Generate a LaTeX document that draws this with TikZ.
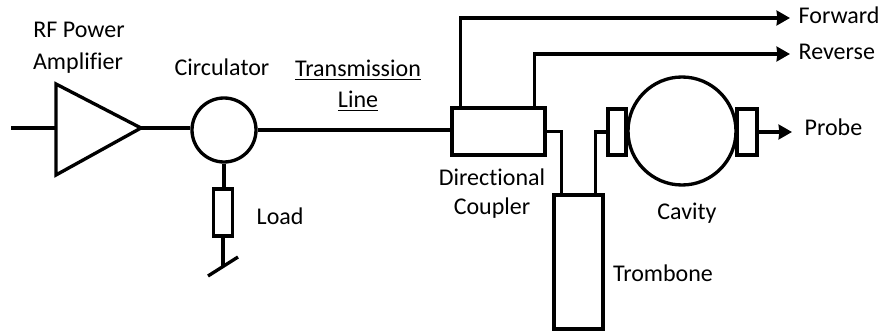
\documentclass[tikz,border=0pt]{standalone}
\usepackage{fontspec}
\setmainfont[Ligatures=NoCommon]{Carlito}
\usetikzlibrary{arrows.meta}
\begin{document}
\begin{tikzpicture}[x=0.75pt, y=-0.75pt, line width=2.5pt,
		>={Stealth[length=10pt,width=11pt,inset=0.5pt]},
		part/.style={draw, rectangle, inner sep=0pt},
		lbl/.style={inner sep=0pt, font=\fontsize{18}{22}\selectfont}]
		\useasboundingbox (0,0) rectangle (880,331);
		% amplifier
		\coordinate (ampin) at (11,128);
		\coordinate (ampa) at (56,84);
		\coordinate (ampb) at (56,175);
		\coordinate (ampc) at (141,128);
		\draw[line join=miter] (ampa) -- (ampc) -- (ampb) -- cycle;
		\node[draw, circle, inner sep=0pt, minimum size=48pt] (circ) at (224,130) {};
		\node[part, minimum width=14.25pt, minimum height=35.25pt] (load) at (223,212.5) {};
		\coordinate (gnd) at (223,266);
		\coordinate (gnda) at (208,276);
		\coordinate (gndb) at (238,257);
		\node[part, minimum width=69.75pt, minimum height=35.25pt] (coupler) at (498.5,131.5) {};
		\node[part, minimum width=36.75pt, minimum height=100.5pt] (tromb) at (578.5,262) {};
		% cavity
		\node[draw, circle, inner sep=0pt, minimum size=81pt] (cav) at (682,131) {};
		\node[part, minimum width=13.5pt, minimum height=34.5pt] (flangel) at (617,132) {};
		\node[part, minimum width=15pt, minimum height=34.5pt] (flanger) at (747,132) {};
		% connections
		\draw (ampin) -- (ampin -| ampa);
		\draw (ampc) -- (circ.west |- ampc);
		\draw (circ.east) -- (circ.east -| coupler.west);
		\draw (circ.south) -- (circ.south |- load.north);
		\draw (load.south) -- (load.south |- gnd);
		\draw (gnda) -- (gndb);
		\coordinate (fwdend) at (790,18);
		\coordinate (revend) at (790,54);
		\coordinate (probeend) at (792,132);
		\draw[->] ([xshift=7.5pt]coupler.north west) |- (fwdend);
		\draw[->] ([xshift=-9pt]coupler.north east) |- (revend);
		\draw[->] (flanger.east) -- (probeend);
		\draw (coupler.east) -| ([xshift=6.75pt]tromb.north west);
		\draw ([xshift=-6.75pt]tromb.north east) |- (flangel.west);
		% labels
		\node[lbl] (rf) at (79,30) {RF Power};
		\node[lbl] (amp) at (78,63) {Amplifier};
		\node[lbl] (circtxt) at (222,67) {Circulator};
		\node[lbl] (tline) at (358,70) {\underline{Transmission}};
		\node[lbl] (tlineb) at (358,101) {\underline{Line}};
		\node[lbl, anchor=west] (loadtxt) at (255,216) {Load};
		\node[lbl] (dir) at (492,177) {Directional};
		\node[lbl] (coup) at (492,208) {Coupler};
		\node[lbl] (cavtxt) at (687,213) {Cavity};
		\node[lbl] (trombtxt) at (663,273) {Trombone};
		\node[lbl, anchor=west] (forward) at (797,15) {Forward};
		\node[lbl, anchor=west] (reverse) at (797,52) {Reverse};
		\node[lbl, anchor=west] (probe) at (803,127) {Probe};
	\end{tikzpicture}
\end{document}
